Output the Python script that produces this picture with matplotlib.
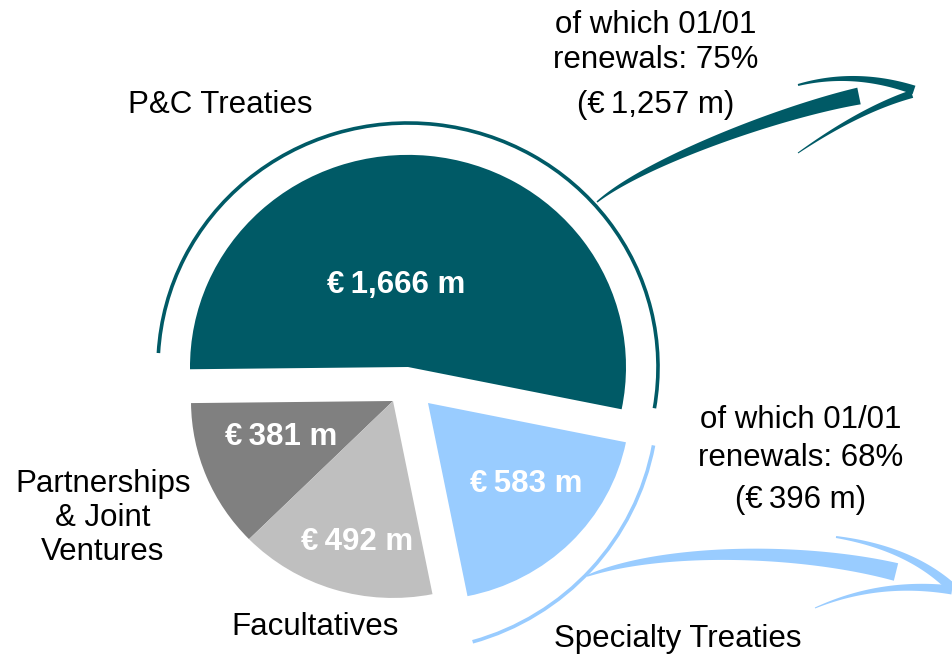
import numpy as np
import matplotlib
matplotlib.use("Agg")
import matplotlib.pyplot as plt
from matplotlib.patches import Wedge, Arc, Polygon
from matplotlib.transforms import Affine2D
from math import comb

# ---------------- data ----------------
categories = ["P&C Treaties", "Partnerships\n& Joint\nVentures", "Facultatives", "Specialty Treaties"]
premiums = [1666, 381, 492, 583]          # € m, counter-clockwise order
renewal_share = [75, 68]                 # % renewed at 01/01 (P&C, Specialty)
renewal_amount = [1257, 396]             # € m

# ---------------- style / layout ----------------
TEAL = "#005A66"
LBLUE = "#99CCFF"
DGREY = "#808080"
LGREY = "#BFBFBF"
colors = [TEAL, DGREY, LGREY, LBLUE]
FONT = ["Liberation Sans", "DejaVu Sans"]
start_angle = -11.5
# wedge vertex (image px), horizontal radius, vertical squish
geom = [((408, 367), 218, 0.973),
        ((393, 401), 202, 0.975),
        ((393, 401), 202, 0.975),
        ((428, 403), 202, 0.975)]
value_pos = [(396, 293), (281, 445), (357, 550), (526, 492)]

W, H = 952, 655
fig = plt.figure(figsize=(W / 100, H / 100), dpi=100)
ax = fig.add_axes([0, 0, 1, 1])
ax.set_xlim(0, W)
ax.set_ylim(H, 0)
ax.axis("off")

# ---------------- pie wedges ----------------
total = float(sum(premiums))
a0 = start_angle
for val, col, (c, r, ky) in zip(premiums, colors, geom):
    span = 360.0 * val / total
    a1 = a0 + span
    tr = Affine2D().scale(1, ky).translate(*c) + ax.transData
    # y axis is inverted -> visual angle theta corresponds to data angle -theta
    w = Wedge((0, 0), r, -a1, -a0, facecolor=col, edgecolor="none", transform=tr)
    ax.add_patch(w)
    a0 = a1

for val, (x, y) in zip(premiums, value_pos):
    ax.text(x, y, f"€\u2009{val:,} m", color="white", fontsize=22.5, fontweight="bold",
            family=FONT, ha="center", va="baseline")

# ---------------- outer arcs ----------------
ax.add_patch(Arc((408, 367), 500, 488, theta1=-176.8, theta2=9.5,
                 color=TEAL, lw=2.6))
ax.add_patch(Arc((405, 398), 506, 506, theta1=10.8, theta2=74.5,
                 color=LBLUE, lw=2.6))


# ---------------- brush-stroke arrows ----------------
def bezier(ctrl, n=120):
    ctrl = np.asarray(ctrl, float)
    t = np.linspace(0, 1, n)[:, None]
    deg = len(ctrl) - 1
    pts = sum(comb(deg, i) * (1 - t) ** (deg - i) * t ** i * ctrl[i] for i in range(deg + 1))
    return pts, t.ravel()


def stroke(ctrl, w0, w1, color, power=1.0):
    pts, t = bezier(ctrl)
    d = np.gradient(pts, axis=0)
    d /= np.linalg.norm(d, axis=1)[:, None]
    nrm = np.stack([-d[:, 1], d[:, 0]], axis=1)
    w = w0 + (w1 - w0) * t ** power
    left = pts + nrm * w[:, None] / 2
    right = pts - nrm * w[:, None] / 2
    poly = np.vstack([left, right[::-1]])
    ax.add_patch(Polygon(poly, closed=True, facecolor=color, edgecolor="none"))


# teal arrow
stroke([(597, 202), (645, 162), (780, 112), (859, 96)], 1.5, 17, TEAL)
stroke([(798, 85), (855, 70), (914, 90)], 2, 9, TEAL)
stroke([(912, 94), (860, 110), (798, 153)], 8, 1, TEAL)
# light blue arrow
stroke([(587, 576), (660, 548), (800, 548), (896, 572)], 1.5, 18, LBLUE, power=0.8)
stroke([(836, 537), (910, 548), (952, 588)], 2, 10, LBLUE)
stroke([(952, 590), (880, 580), (815, 608)], 9, 1, LBLUE)

# ---------------- texts ----------------
kw = dict(fontsize=22.5, family=FONT, color="black", ha="center", va="baseline")
ax.text(656, 33, "of which 01/01", **kw)
ax.text(656, 68, f"renewals: {renewal_share[0]}%", **kw)
ax.text(656, 113, f"(€\u2009{renewal_amount[0]:,} m)", **kw)

ax.text(801, 428, "of which 01/01", **kw)
ax.text(801, 466, f"renewals: {renewal_share[1]}%", **kw)
ax.text(801, 508, f"(€\u2009{renewal_amount[1]:,} m)", **kw)

ax.text(220, 113, categories[0], **kw)
for i, line in enumerate(categories[1].split("\n")):
    ax.text(103, 492 + 34 * i, line, **kw)
ax.text(315, 635, categories[2], **kw)
ax.text(678, 647, categories[3], **kw)

fig.savefig("out.png", dpi=100)
